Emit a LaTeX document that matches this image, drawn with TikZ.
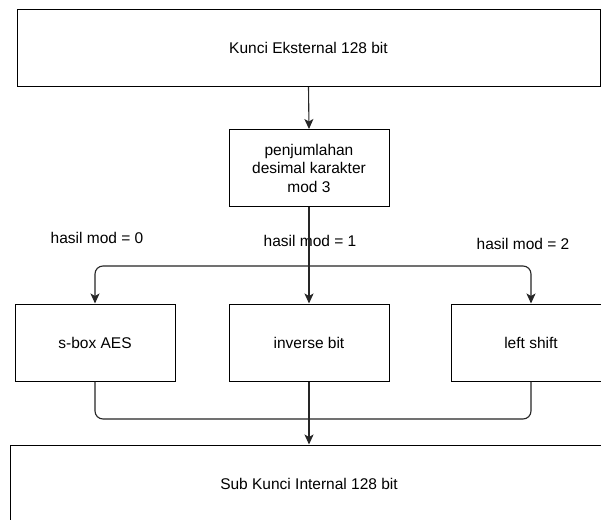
\documentclass[tikz,border=0pt]{standalone}
\usepackage{fontspec}
\setmainfont{Liberation Sans}
\usetikzlibrary{arrows.meta}
\tikzset{
  box/.style={draw=black, line width=1pt, fill=white, minimum width=160pt,
    minimum height=77pt, inner sep=0pt, align=center,
    font=\fontsize{15.5}{18.5}\selectfont},
  lbl/.style={inner sep=0pt, font=\fontsize{15.5}{18.5}\selectfont},
  wire/.style={draw=black!85, line width=1.1pt, rounded corners=8pt},
  arr/.style={wire, -{Stealth[length=10pt,width=9pt,inset=2.5pt]}}
}
\begin{document}
\begin{tikzpicture}[x=1pt,y=-1pt]
\path[use as bounding box, clip] (0,0) rectangle (601,519);
\fill[white] (0,0) rectangle (601,519);

% boxes
\node[box, minimum width=583pt] (ext) at (308.5,48) {Kunci Eksternal 128 bit};
\node[box] (sum) at (309,168) {penjumlahan\\desimal karakter\\mod 3};
\node[box] (sbox) at (95,342.5) {s-box AES};
\node[box] (inv) at (309,342.5) {inverse bit};
\node[box] (lsh) at (531,342.5) {left shift};
\node[box, minimum width=598pt, minimum height=78pt] (sub) at (309,484) {Sub Kunci Internal 128 bit};

% branch labels
\node[lbl] (l0) at (97,238) {hasil mod = 0};
\node[lbl] (l1) at (310,241) {hasil mod = 1};
\node[lbl] (l2) at (523,244) {hasil mod = 2};

% split level and merge level
\coordinate (split) at (309,266);
\coordinate (merge) at (309,419);

% connectors
\draw[arr] (ext.south) -- (sum.north);
\draw[arr] (sum.south) -- (inv.north);
\draw[arr] (split) -| (sbox.north);
\draw[arr] (split) -| (lsh.north);
\draw[wire] (sbox.south) |- (merge);
\draw[wire] (lsh.south) |- (merge);
\draw[arr] (inv.south) -- (sub.north);
\end{tikzpicture}
\end{document}
